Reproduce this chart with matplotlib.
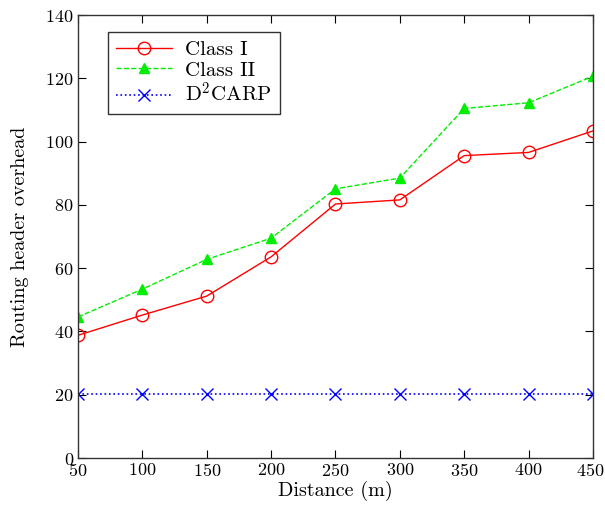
import numpy as np
import matplotlib.pyplot as plt
from matplotlib.transforms import ScaledTranslation

plt.rcParams['font.family'] = 'serif'
plt.rcParams['font.serif'] = ['cmr10']
plt.rcParams['mathtext.fontset'] = 'cm'
plt.rcParams['axes.formatter.use_mathtext'] = True

distance = [50, 100, 150, 200, 250, 300, 350, 400, 450]
class_1 = [38.8, 45.2, 51.2, 63.6, 80.3, 81.6, 95.6, 96.6, 103.4]
class_2 = [44.6, 53.4, 62.8, 69.5, 85.1, 88.5, 110.5, 112.3, 120.7]
d2carp = [20.4, 20.4, 20.4, 20.4, 20.4, 20.4, 20.4, 20.4, 20.4]

fig = plt.figure(figsize=(6.05, 5.05), dpi=100)
ax = fig.add_axes([0.129, 0.093, 0.851, 0.877])

ax.plot(distance, class_1, '-', color='red', marker='o', markersize=9,
        markerfacecolor='none', markeredgewidth=1.0, linewidth=1.0, label='Class I')
ax.plot(distance, class_2, '--', color='#00ee00', marker='^', markersize=7,
        linewidth=1.0, label='Class II')
ax.plot(distance, d2carp, ':', color='blue', marker='x', markersize=9,
        markeredgewidth=1.0, linewidth=1.2, label=r'D$^2$CARP')

ax.set_xlim(50, 450)
ax.set_ylim(0, 140)
ax.set_xticks(distance)
ax.set_yticks(np.arange(0, 141, 20))
ax.tick_params(direction='in', top=True, right=True, labelsize=13, length=6, pad=3)
for s in ax.spines.values():
    s.set_linewidth(1.0)
    s.set_color('#333333')

# nudge the last x tick label so it stays inside the figure
last = ax.get_xticklabels()[-1]
last.set_transform(last.get_transform() + ScaledTranslation(-0.03, 0, fig.dpi_scale_trans))

ax.set_xlabel('Distance (m)', fontsize=14.5, labelpad=1)
ax.set_ylabel('Routing header overhead', fontsize=14.5, labelpad=12)

leg = ax.legend(loc='upper left', bbox_to_anchor=(0.058, 0.962), fontsize=15,
                fancybox=False, edgecolor='black', handlelength=2.7,
                borderpad=0.4, labelspacing=0.1, handletextpad=0.6,
                borderaxespad=0)
leg.get_frame().set_linewidth(1.0)

fig.savefig('out.png', dpi=100)
